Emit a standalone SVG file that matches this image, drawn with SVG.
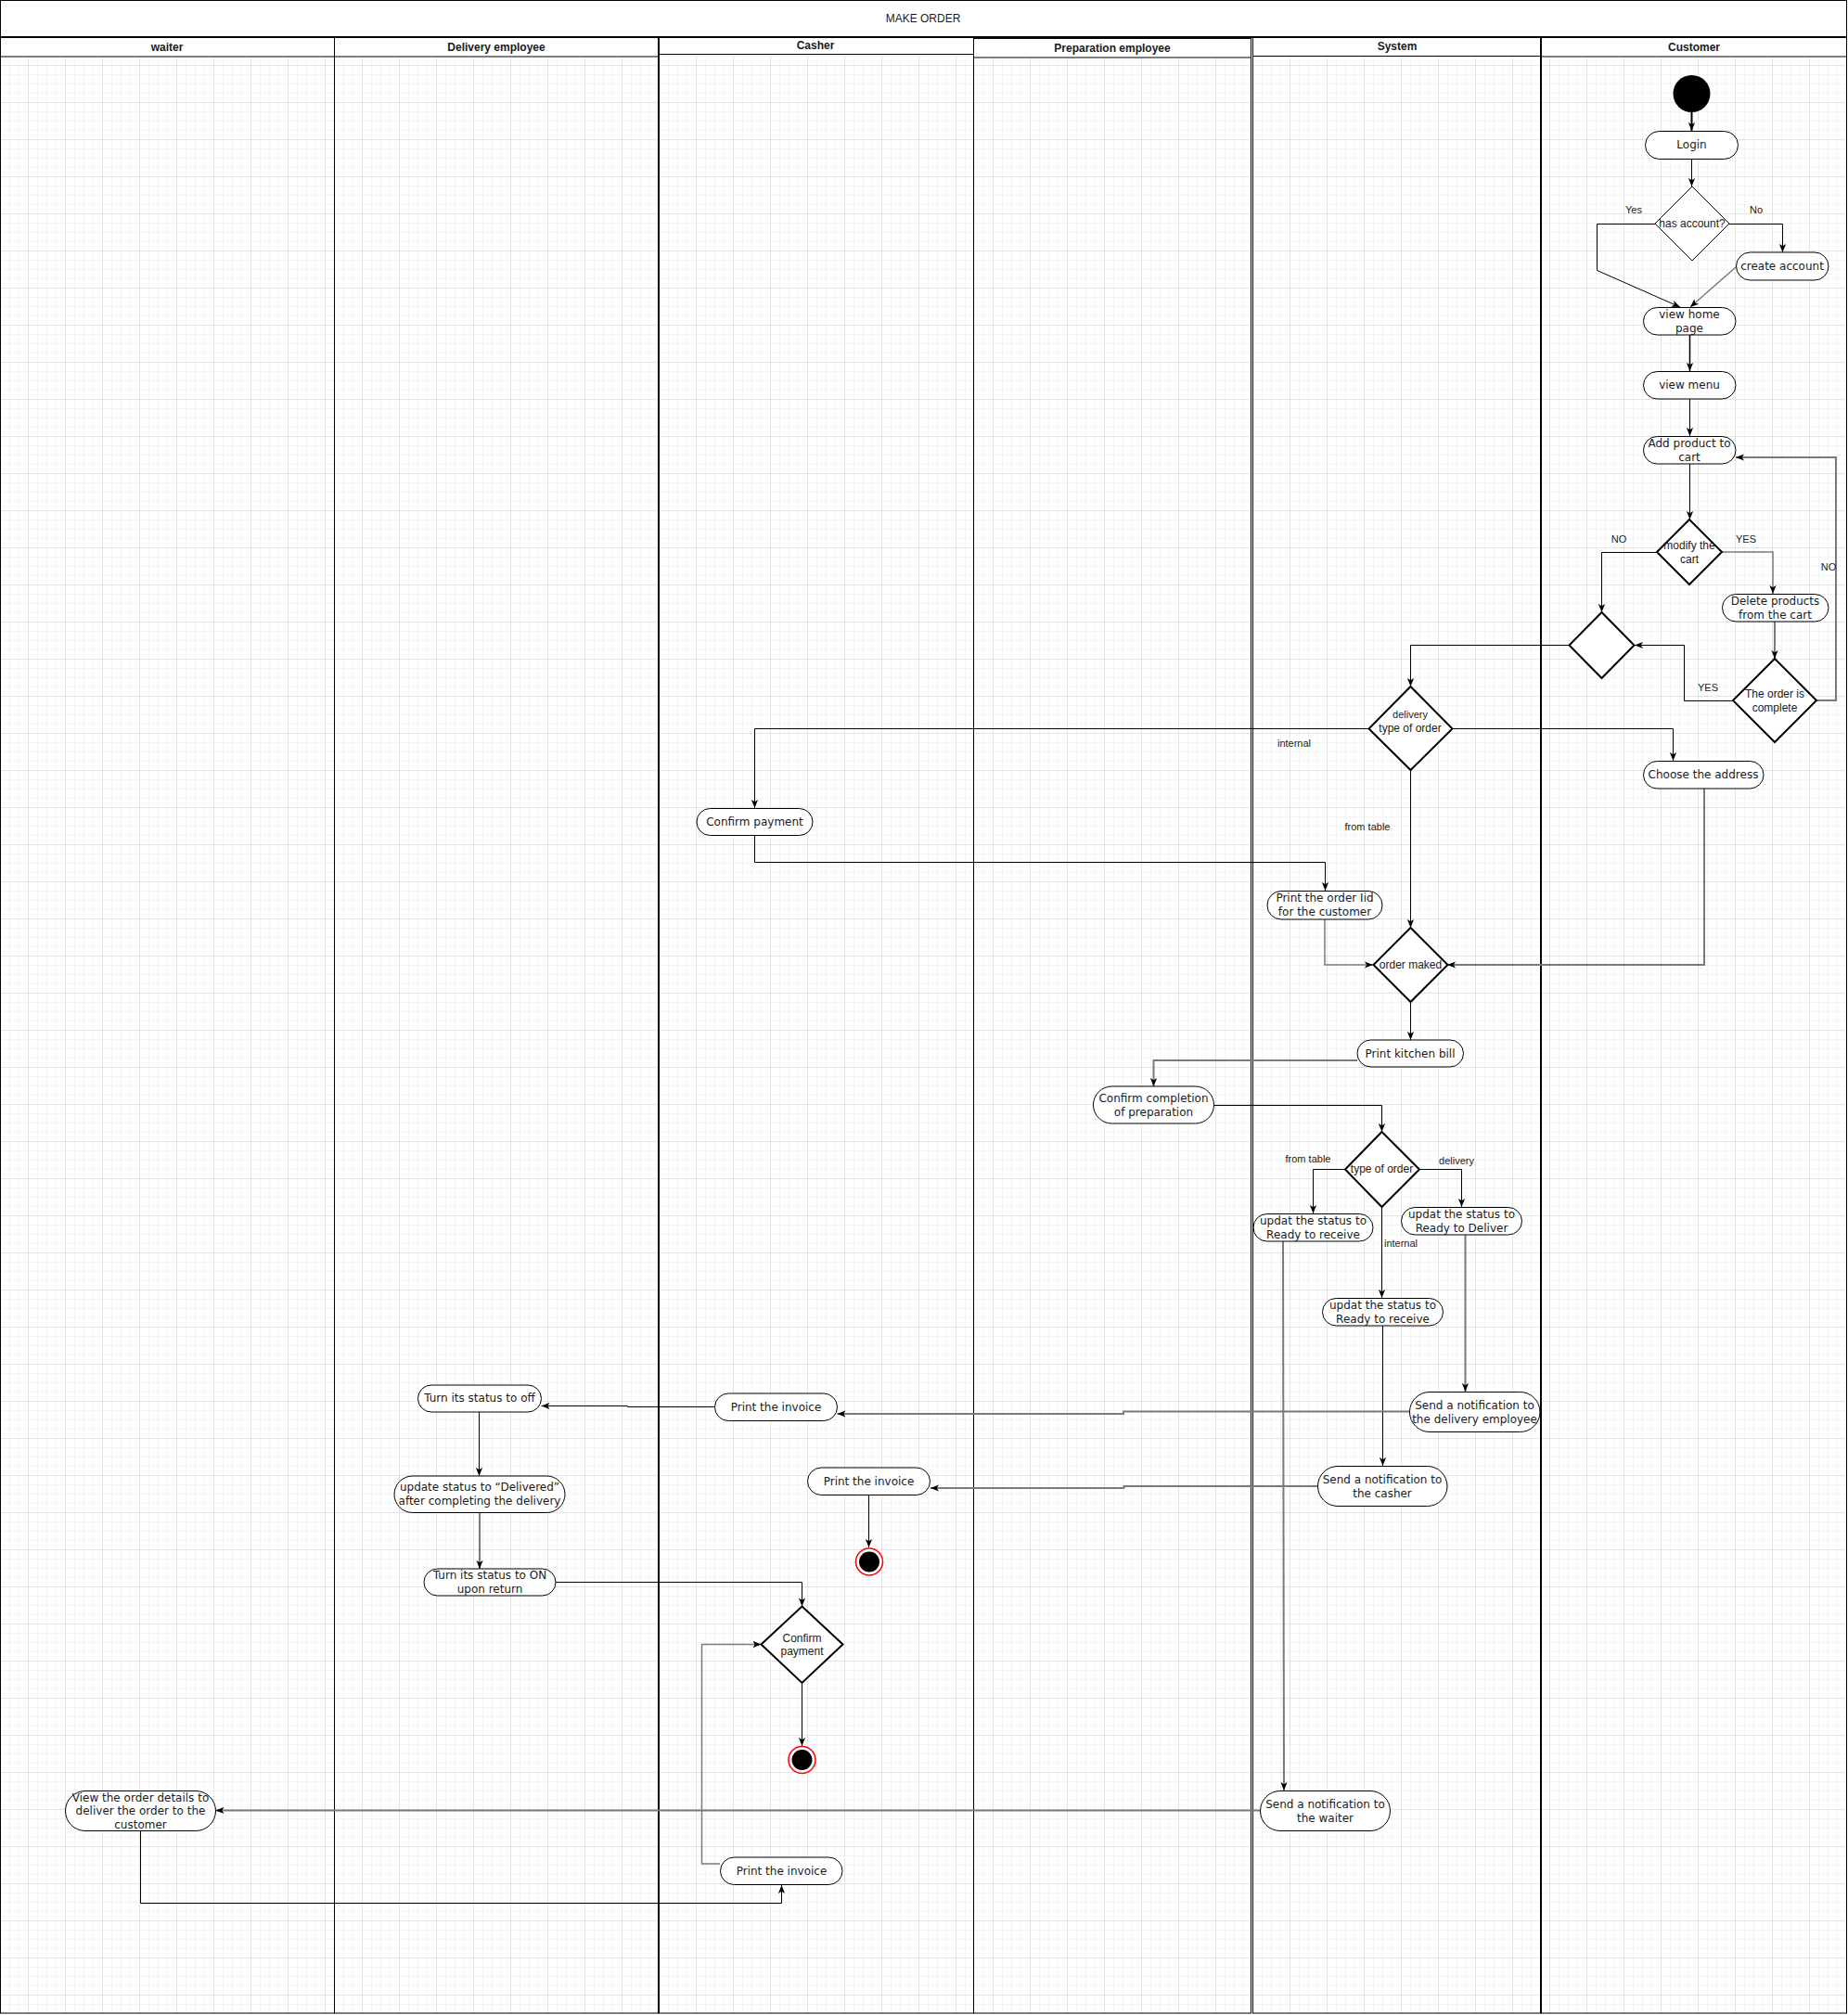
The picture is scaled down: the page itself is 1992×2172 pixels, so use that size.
<svg xmlns="http://www.w3.org/2000/svg" width="1992" height="2172" viewBox="0 0 1992 2172">
<defs>
<pattern id="grid" x="-10" y="-10" width="40" height="40" patternUnits="userSpaceOnUse">
<path d="M10.5,0V40M20.5,0V40M30.5,0V40M0,10.5H40M0,20.5H40M0,30.5H40" stroke="#f4f4f4" stroke-width="1" fill="none"/>
<path d="M0.5,0V40M0,0.5H40" stroke="#e4e4e4" stroke-width="1" fill="none"/>
</pattern>
<marker id="arr" markerUnits="userSpaceOnUse" viewBox="0 0 9 8" refX="9" refY="4" markerWidth="9" markerHeight="8" orient="auto">
<path d="M0,0.4 L9,4 L0,7.6 L2.2,4 z" fill="#000"/>
</marker>
<style>
.nd{fill:#fff;stroke:#000;stroke-width:1}
.dm{fill:#fff;stroke:#000;stroke-width:2}
.t{font-family:"DejaVu Sans",sans-serif;font-size:12px;fill:#1a1a1a;text-anchor:middle;dominant-baseline:central}
.td{font-family:"Liberation Sans",Arial,sans-serif;font-size:12px;fill:#1a1a1a;text-anchor:middle;dominant-baseline:central}
.lb{font-family:"Liberation Sans",Arial,sans-serif;font-size:11px;fill:#1a1a1a;text-anchor:middle;dominant-baseline:central}
.hd{font-family:"Liberation Sans",Arial,sans-serif;font-size:12px;font-weight:bold;fill:#1a1a1a;text-anchor:middle;dominant-baseline:central}
.ti{font-family:"Liberation Sans",Arial,sans-serif;font-size:12px;fill:#1a1a1a;text-anchor:middle;dominant-baseline:central}
.c{fill:none;stroke:#000;stroke-width:1;marker-end:url(#arr)}
.cg{fill:none;stroke:#7a7a7a;stroke-width:2;marker-end:url(#arr)}
.ln{fill:none;stroke:#000;stroke-width:1}
</style>
</defs>
<rect width="1992" height="2172" fill="#fff"/>
<rect x="0" y="60" width="1991" height="2111" fill="url(#grid)"/>

<g id="pool">
<rect x="0.5" y="0.5" width="1990" height="39.5" fill="#fff" stroke="#000" stroke-width="1"/>
<text class="ti" x="995" y="20">MAKE ORDER</text>
<g id="lane-waiter">
<rect x="0.5" y="40" width="360" height="2130" class="ln"/>
<rect x="0.5" y="40" width="360" height="21" fill="#fff" stroke="#000" stroke-width="1"/>
<text class="hd" x="180" y="50.5">waiter</text>
</g>
<g id="lane-delivery">
<rect x="360.5" y="40" width="349" height="2130" class="ln"/>
<rect x="360.5" y="40" width="349" height="21" fill="#fff" stroke="#000" stroke-width="1"/>
<text class="hd" x="535" y="50.5">Delivery employee</text>
</g>
<g id="lane-casher">
<rect x="709.5" y="39.5" width="340" height="2130.5" class="ln"/>
<rect x="709.5" y="39.5" width="340" height="19" fill="#fff" stroke="#000" stroke-width="1"/>
<line x1="710" y1="40" x2="710" y2="2170" stroke="#000" stroke-width="2"/>
<text class="hd" x="879" y="49">Casher</text>
</g>
<g id="lane-preparation">
<rect x="1049.5" y="41.5" width="299" height="2128.5" class="ln"/>
<rect x="1049.5" y="41.5" width="299" height="20.5" fill="#fff" stroke="#000" stroke-width="1"/>
<text class="hd" x="1199" y="51.5">Preparation employee</text>
</g>
<g id="lane-system">
<rect x="1350.5" y="40" width="310.5" height="2130" class="ln"/>
<rect x="1350.5" y="40" width="310.5" height="20.5" fill="#fff" stroke="#000" stroke-width="1"/>
<text class="hd" x="1506" y="50">System</text>
</g>
<g id="lane-customer">
<rect x="1661" y="40" width="329.5" height="2130" class="ln"/>
<rect x="1661" y="40" width="329.5" height="21" fill="#fff" stroke="#000" stroke-width="1"/>
<line x1="1661" y1="40" x2="1661" y2="2170" stroke="#000" stroke-width="2"/>
<text class="hd" x="1826" y="50.5">Customer</text>
</g>
<line x1="0" y1="40" x2="1991" y2="40" stroke="#000" stroke-width="2"/>
</g>

<g id="connectors">
<path class="c" d="M1823.5,121 V141" style="stroke-width:2"/>
<path class="c" d="M1823.5,171 V201"/>
<path class="c" d="M1784,241.5 H1721.5 V291.5 L1811,331"/>
<path class="c" d="M1864,241.5 H1921.5 V272"/>
<path class="cg" d="M1871,288 L1822,331" style="stroke-width:1.5"/>
<path class="c" d="M1821.5,361 V400" style="stroke-width:1.5"/>
<path class="c" d="M1821.5,430 V470"/>
<path class="c" d="M1821.5,500 V560"/>
<path class="c" d="M1786,595.5 H1726.5 V660"/>
<path class="cg" d="M1856,595 H1911 V640" style="stroke-width:1.5"/>
<path class="cg" d="M1913,670 V710"/>
<path class="c" d="M1868,755.5 H1815.5 V695.5 H1762"/>
<path class="cg" d="M1958,755 H1979 V493 H1871"/>
<path class="c" d="M1691,695.5 H1520.5 V740"/>
<path class="c" d="M1475,785.5 H813.5 V871"/>
<path class="c" d="M1565,785.5 H1803.5 V820"/>
<path class="c" d="M1520.5,830 V1000"/>
<path class="c" d="M813.5,900 V929.5 H1428.5 V960"/>
<path class="cg" d="M1428,991 V1040 H1480" style="stroke-width:1.5"/>
<path class="cg" d="M1837,850 V1040 H1560"/>
<path class="c" d="M1520.5,1080 V1121"/>
<path class="cg" d="M1463,1143 H1243.5 V1171"/>
<path class="c" d="M1308.5,1191.5 H1489.5 V1220"/>
<path class="c" d="M1450,1260.5 H1415.5 V1308"/>
<path class="c" d="M1530,1260.5 H1575.5 V1301"/>
<path class="c" d="M1489.5,1300 V1399"/>
<path class="cg" d="M1383,1338 L1384,1930"/>
<path class="c" d="M1490.5,1429 V1580"/>
<path class="cg" d="M1579.5,1331 L1579.5,1500"/>
<path class="cg" d="M1519,1521.5 H1211 V1524 H902.5"/>
<path class="cg" d="M1420,1602 H1211.5 V1604 H1003"/>
<path class="c" d="M770.5,1516.5 H676.5 V1515.5 H583.5"/>
<path class="c" d="M516.5,1522 V1591"/>
<path class="cg" d="M517,1630 V1691"/>
<path class="c" d="M599,1705.5 H864.5 V1731.5"/>
<path class="c" d="M936.5,1611 V1668"/>
<path class="c" d="M864.5,1814 V1882"/>
<path class="cg" d="M776,2009 H756.5 V1772.5 H820.5" style="stroke-width:1.5"/>
<path class="cg" d="M1358,1951.5 H232.5"/>
<path class="c" d="M151.5,1973 V2051.5 H842.5 V2032"/>
<g id="edge-labels">
<text class="lb" x="1761" y="226">Yes</text>
<text class="lb" x="1893" y="226">No</text>
<text class="lb" x="1745" y="581">NO</text>
<text class="lb" x="1882" y="581">YES</text>
<text class="lb" x="1841" y="741">YES</text>
<rect x="1964" y="603" width="14" height="16" fill="#fff"/>
<text class="lb" x="1971" y="611">NO</text>
<text class="lb" x="1395" y="801">internal</text>
<text class="lb" x="1474" y="891">from table</text>
<text class="lb" x="1410" y="1249">from table</text>
<text class="lb" x="1570" y="1251">delivery</text>
<rect x="1490" y="1333" width="40" height="14" fill="#fff"/>
<text class="lb" x="1510" y="1340">internal</text>
</g>
</g>

<g id="start"><circle cx="1823.5" cy="101" r="20" fill="#000"/></g>
<g id="login"><rect class="nd" x="1773.5" y="141.5" width="100" height="30" rx="15"/><text class="t" x="1823.5" y="156">Login</text></g>
<g id="has-account"><path d="M1824,201 L1864,241 L1824,281 L1784,241 Z" fill="#fff" stroke="#000" stroke-width="1"/><text class="td" x="1824" y="241">has account?</text></g>
<g id="create-account"><rect class="nd" x="1871.5" y="272" width="99.5" height="30" rx="15"/><text class="t" x="1921" y="286.5">create account</text></g>
<g id="view-home"><rect class="nd" x="1771.5" y="331.5" width="99.5" height="29.5" rx="14.75"/><text class="t" x="1821" y="339">view home</text><text class="t" x="1821" y="354">page</text></g>
<g id="view-menu"><rect class="nd" x="1771.5" y="400.5" width="99.5" height="29.5" rx="14.75"/><text class="t" x="1821" y="415">view menu</text></g>
<g id="add-product"><rect class="nd" x="1771.5" y="470.5" width="99.5" height="29.5" rx="14.75"/><text class="t" x="1821" y="477.5">Add product to</text><text class="t" x="1821" y="492.5">cart</text></g>
<g id="modify-cart"><path class="dm" d="M1821,560 L1856,595 L1821,630 L1786,595 Z"/><text class="td" x="1821" y="588">modify the</text><text class="td" x="1821" y="603">cart</text></g>
<g id="delete-products"><rect class="nd" x="1856.5" y="640.5" width="114.5" height="29.5" rx="14.75"/><text class="t" x="1913.5" y="648">Delete products</text><text class="t" x="1913.5" y="663">from the cart</text></g>
<g id="order-complete"><path class="dm" d="M1913,710 L1958,755 L1913,800 L1868,755 Z"/><text class="td" x="1913" y="748">The order is</text><text class="td" x="1913" y="763">complete</text></g>
<g id="merge"><path class="dm" d="M1726.5,660 L1761.5,695.5 L1726.5,731 L1691.5,695.5 Z"/></g>
<g id="choose-address"><rect class="nd" x="1771.5" y="820.5" width="129.5" height="29.5" rx="14.75"/><text class="t" x="1836" y="835">Choose the address</text></g>

<g id="type-order-1"><path class="dm" d="M1520.5,740 L1565.5,785.5 L1520.5,830 L1475.5,785.5 Z"/><text class="lb" x="1520" y="769.5">delivery</text><text class="td" x="1520" y="785">type of order</text></g>
<g id="print-order-id"><rect class="nd" x="1366" y="960.5" width="124" height="30.5" rx="15"/><text class="t" x="1428" y="968">Print the order Iid</text><text class="t" x="1428" y="983">for the customer</text></g>
<g id="order-maked"><path class="dm" d="M1520.5,1000 L1560.5,1040 L1520.5,1080 L1480.5,1040 Z"/><text class="td" x="1520.5" y="1040">order maked</text></g>
<g id="print-kitchen"><rect class="nd" x="1463" y="1121" width="114.5" height="29" rx="14.5"/><text class="t" x="1520" y="1135.5">Print kitchen bill</text></g>
<g id="confirm-completion"><rect class="nd" x="1178.5" y="1171" width="130" height="40" rx="20"/><text class="t" x="1243.5" y="1183.5">Confirm completion</text><text class="t" x="1243.5" y="1198.5">of preparation</text></g>
<g id="type-order-2"><path class="dm" d="M1489.5,1220 L1530,1260.5 L1489.5,1301 L1450,1260.5 Z"/><text class="td" x="1489.5" y="1260">type of order</text></g>
<g id="updat-left"><rect class="nd" x="1351" y="1308.5" width="129" height="29.5" rx="14.75"/><text class="t" x="1415.5" y="1316">updat the status to</text><text class="t" x="1415.5" y="1331">Ready to receive</text></g>
<g id="updat-right"><rect class="nd" x="1510.5" y="1301.5" width="130" height="29.5" rx="14.75"/><text class="t" x="1575.5" y="1309">updat the status to</text><text class="t" x="1575.5" y="1324">Ready to Deliver</text></g>
<g id="updat-mid"><rect class="nd" x="1425.5" y="1399.5" width="130" height="29.5" rx="14.75"/><text class="t" x="1490.5" y="1407">updat the status to</text><text class="t" x="1490.5" y="1422">Ready to receive</text></g>
<g id="send-delivery"><rect class="nd" x="1519.5" y="1500.5" width="140.5" height="43" rx="21.5"/><text class="t" x="1589.5" y="1514.5">Send a notification to</text><text class="t" x="1589.5" y="1529.5">the delivery employee</text></g>
<g id="send-casher"><rect class="nd" x="1420.5" y="1580.5" width="139.5" height="43" rx="21.5"/><text class="t" x="1490" y="1594.5">Send a notification to</text><text class="t" x="1490" y="1609.5">the casher</text></g>
<g id="send-waiter"><rect class="nd" x="1358.5" y="1930.5" width="140" height="43" rx="21.5"/><text class="t" x="1428.5" y="1944.5">Send a notification to</text><text class="t" x="1428.5" y="1959.5">the waiter</text></g>

<g id="confirm-payment-1"><rect class="nd" x="751" y="871.5" width="125" height="29" rx="14.5"/><text class="t" x="813.5" y="886">Confirm payment</text></g>
<g id="print-invoice-1"><rect class="nd" x="770.5" y="1502" width="132" height="29.5" rx="14.75"/><text class="t" x="836.5" y="1516.5">Print the invoice</text></g>
<g id="print-invoice-2"><rect class="nd" x="870.5" y="1582" width="132" height="29.5" rx="14.75"/><text class="t" x="936.5" y="1596.5">Print the invoice</text></g>
<g id="end-1"><circle cx="937" cy="1683.5" r="14.5" fill="#fff" stroke="#f00" stroke-width="1.5"/><circle cx="937" cy="1683.5" r="11" fill="#000"/></g>
<g id="confirm-payment-2"><path class="dm" d="M864.5,1731.5 L908.5,1772.5 L864.5,1814 L820.5,1772.5 Z"/><text class="td" x="864.5" y="1765.5">Confirm</text><text class="td" x="864.5" y="1780">payment</text></g>
<g id="end-2"><circle cx="864.5" cy="1897" r="14.5" fill="#fff" stroke="#f00" stroke-width="1.5"/><circle cx="864.5" cy="1897" r="11" fill="#000"/></g>
<g id="print-invoice-3"><rect class="nd" x="776.5" y="2002" width="131.5" height="29.5" rx="14.75"/><text class="t" x="842.5" y="2016.5">Print the invoice</text></g>

<g id="turn-off"><rect class="nd" x="450.5" y="1493" width="133" height="29" rx="14.5"/><text class="t" x="517" y="1507">Turn its status to off</text></g>
<g id="update-delivered"><rect class="nd" x="425" y="1591" width="184" height="39.5" rx="19.75"/><text class="t" x="517" y="1603">update status to “Delivered”</text><text class="t" x="517" y="1618">after completing the delivery</text></g>
<g id="turn-on"><rect class="nd" x="457" y="1691" width="142" height="29" rx="14.5"/><text class="t" x="528" y="1698">Turn its status to ON</text><text class="t" x="528" y="1713">upon return</text></g>

<g id="view-order"><rect class="nd" x="70.5" y="1930.5" width="162" height="43" rx="21.5"/><text class="t" x="151.5" y="1937.5">View the order details to</text><text class="t" x="151.5" y="1952">deliver the order to the</text><text class="t" x="151.5" y="1966.5">customer</text></g>
</svg>
